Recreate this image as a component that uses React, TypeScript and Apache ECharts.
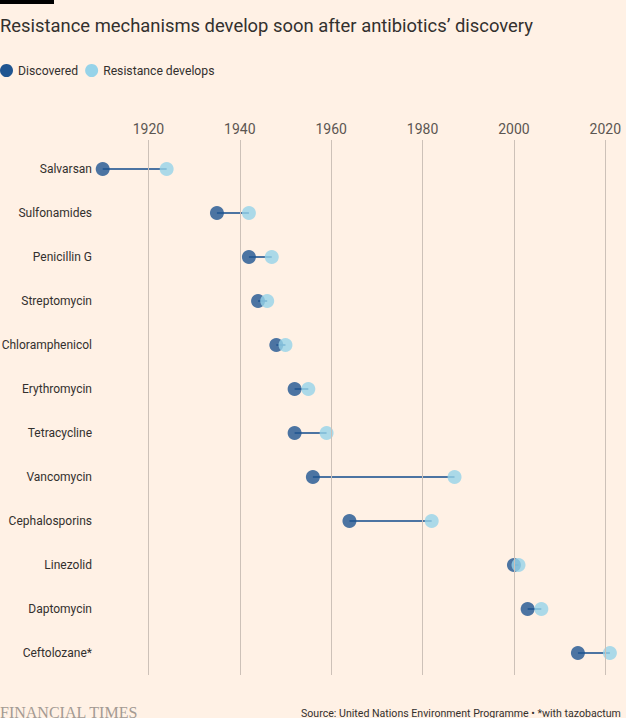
import React, { useEffect, useRef } from "react";
import * as echarts from "echarts";

const categories = [
  "Salvarsan",
  "Sulfonamides",
  "Penicillin G",
  "Streptomycin",
  "Chloramphenicol",
  "Erythromycin",
  "Tetracycline",
  "Vancomycin",
  "Cephalosporins",
  "Linezolid",
  "Daptomycin",
  "Ceftolozane*",
];
const discovered = [1910, 1935, 1942, 1944, 1948, 1952, 1952, 1956, 1964, 2000, 2003, 2014];
const resistance = [1924, 1942, 1947, 1946, 1950, 1955, 1959, 1987, 1982, 2001, 2006, 2021];
const tickYears = [1920, 1940, 1960, 1980, 2000, 2020];

const BG = "#fff1e5";
const DARK = "#1f5591";
const LIGHT = "#96d3e9";
const GRID = "#cdc1b8";
const TEXT = "#33302e";
const FONT = "Roboto";

export default function App() {
  const ref = useRef<HTMLDivElement>(null);
  useEffect(() => {
    const chart = echarts.init(ref.current!, null, { renderer: "svg" });
    const option: any = {
      animation: false,
      backgroundColor: BG,
      textStyle: { fontFamily: FONT },
      title: {
        text: "Resistance mechanisms develop soon after antibiotics\u2019 discovery",
        left: -5,
        top: 11,
        textStyle: { fontFamily: FONT, fontSize: 18.4, fontWeight: "normal", color: TEXT },
      },
      legend: {
        left: 0,
        top: 64,
        padding: 0,
        icon: "circle",
        itemWidth: 13,
        itemHeight: 13,
        itemGap: 7,
        textStyle: { fontFamily: FONT, fontSize: 12.2, color: TEXT },
        data: [
          { name: "Discovered", itemStyle: { color: DARK, opacity: 1 } },
          { name: "Resistance develops", itemStyle: { color: LIGHT, opacity: 1 } },
        ],
      },
      grid: { left: 57, right: 2.4, top: 147, bottom: 43, outerBoundsMode: "none" },
      xAxis: {
        type: "value",
        position: "top",
        min: 1900,
        max: 2024,
        axisLine: { show: false },
        splitLine: { show: false },
        axisTick: { show: true, length: 7, lineStyle: { color: GRID }, customValues: tickYears },
        axisLabel: {
          customValues: tickYears,
          formatter: (v: number) => String(v),
          margin: 11,
          fontFamily: FONT,
          fontSize: 14,
          color: "#5c5652",
        },
      },
      yAxis: {
        type: "category",
        inverse: true,
        data: categories,
        axisLine: { show: false },
        axisTick: { show: false },
        splitLine: { show: false },
        axisLabel: { margin: -35, fontFamily: FONT, fontSize: 12, color: TEXT },
      },
      series: [
        {
          type: "custom",
          name: "grid",
          silent: true,
          z: 1,
          data: [],
          renderItem: () => null,
          markLine: {
            silent: true,
            symbol: "none",
            label: { show: false },
            lineStyle: { color: GRID, type: "solid", width: 1 },
            data: tickYears.map((y) => ({ xAxis: y })),
          },
        },
        {
          type: "custom",
          name: "connector",
          silent: true,
          z: 2,
          encode: { x: [0, 1], y: 2 },
          data: categories.map((c, i) => [discovered[i], resistance[i], c]),
          renderItem: (params: any, api: any) => {
            const a = api.coord([api.value(0), api.value(2)]);
            const b = api.coord([api.value(1), api.value(2)]);
            return {
              type: "line",
              shape: { x1: a[0], y1: a[1], x2: b[0], y2: b[1] },
              style: { stroke: DARK, lineWidth: 2, opacity: 0.8 },
            };
          },
        },
        {
          type: "scatter",
          name: "Discovered",
          z: 3,
          symbolSize: 14,
          itemStyle: { color: DARK, opacity: 0.8 },
          data: categories.map((c, i) => [discovered[i], c]),
        },
        {
          type: "scatter",
          name: "Resistance develops",
          z: 4,
          symbolSize: 14,
          itemStyle: { color: LIGHT, opacity: 0.8 },
          data: categories.map((c, i) => [resistance[i], c]),
        },
      ],
      graphic: [
        { type: "rect", left: 0, top: 0, shape: { width: 54, height: 4 }, style: { fill: "#000" } },
        {
          type: "text",
          left: 0,
          top: 704,
          style: {
            text: "FINANCIAL TIMES",
            font: "16px 'Liberation Serif'",
            fill: "#a39a93",
          },
        },
        {
          type: "text",
          left: 301,
          top: 708,
          style: {
            text: "Source: United Nations Environment Programme \u2022 *with tazobactum",
            font: "10.6px Roboto",
            fill: TEXT,
          },
        },
      ],
    };
    chart.setOption(option);
    return () => chart.dispose();
  }, []);
  return (
    <div
      ref={ref}
      style={{ position: "absolute", left: 0, top: 0, width: 626, height: 718 }}
    />
  );
}
